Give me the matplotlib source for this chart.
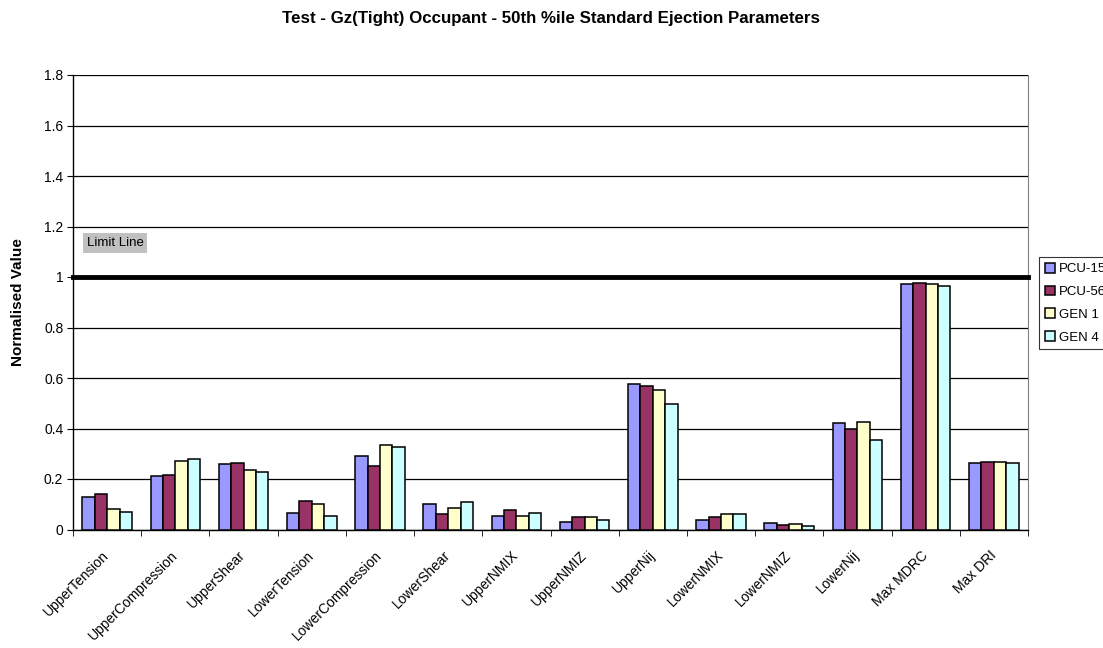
import matplotlib
matplotlib.use("Agg")
import matplotlib.pyplot as plt
import numpy as np

plt.rcParams['font.family'] = ['Liberation Sans', 'DejaVu Sans']

categories = ["UpperTension", "UpperCompression", "UpperShear", "LowerTension",
              "LowerCompression", "LowerShear", "UpperNMIX", "UpperNMIZ",
              "UpperNij", "LowerNMIX", "LowerNMIZ", "LowerNij", "Max MDRC", "Max DRI"]

pcu_15 = [0.130, 0.210, 0.258, 0.064, 0.292, 0.100, 0.054, 0.030, 0.578, 0.036, 0.027, 0.421, 0.972, 0.262]
pcu_56 = [0.141, 0.217, 0.265, 0.112, 0.251, 0.060, 0.078, 0.049, 0.569, 0.049, 0.017, 0.397, 0.978, 0.268]
gen_1  = [0.083, 0.270, 0.236, 0.100, 0.333, 0.084, 0.054, 0.049, 0.554, 0.060, 0.023, 0.424, 0.972, 0.268]
gen_4  = [0.071, 0.280, 0.229, 0.054, 0.328, 0.107, 0.066, 0.037, 0.497, 0.060, 0.015, 0.355, 0.966, 0.262]

series_names = ["PCU-15", "PCU-56", "GEN 1", "GEN 4"]
series_colors = ["#9999FF", "#993366", "#FFFFCC", "#CCFFFF"]
limit_value = 1.0
y_ticks = [0, 0.2, 0.4, 0.6, 0.8, 1, 1.2, 1.4, 1.6, 1.8]
y_tick_labels = ["0", "0.2", "0.4", "0.6", "0.8", "1", "1.2", "1.4", "1.6", "1.8"]

W, H = 1103, 648
fig = plt.figure(figsize=(W / 100, H / 100), dpi=100)
left, right, top, bottom = 73, 1028, 75, 529.5
ax = fig.add_axes([left / W, 1 - bottom / H, (right - left) / W, (bottom - top) / H])

n = len(categories)
x = np.arange(n)
bar_w = 1 / 5.5
all_series = [pcu_15, pcu_56, gen_1, gen_4]
for i, (vals, name, col) in enumerate(zip(all_series, series_names, series_colors)):
    offs = (i - 1.5) * bar_w
    ax.bar(x + offs, vals, width=bar_w, color=col, edgecolor="black",
           linewidth=1.1, label=name, zorder=3)

ax.set_xlim(-0.5, n - 0.5)
ax.set_ylim(0, 1.8)
ax.set_yticks(y_ticks)
ax.set_yticklabels(y_tick_labels, fontsize=10)
ax.yaxis.grid(True, color="black", linewidth=0.9, zorder=0)
ax.set_axisbelow(True)

ax.set_xticks(x)
ax.set_xticklabels(categories, rotation=45, ha="right", va="center",
                   rotation_mode="anchor", fontsize=10)
ax.tick_params(axis="x", which="major", length=0, pad=17)
ax.set_xticks(np.arange(n + 1) - 0.5, minor=True)
ax.tick_params(axis="x", which="minor", length=4, direction="out", color="black")
ax.tick_params(axis="y", length=4, direction="out", pad=3)

ax.spines["top"].set_visible(False)
ax.spines["right"].set_color("#808080")
ax.spines["left"].set_color("black")
ax.spines["bottom"].set_color("black")
for s in ("left", "bottom"):
    ax.spines[s].set_linewidth(1.0)

ax.axhline(limit_value, color="black", linewidth=3.5, zorder=4, clip_on=False)
ax.text(-0.30, 1.135, "Limit Line", fontsize=9.5, va="center", ha="left",
        bbox=dict(boxstyle="square,pad=0.3", facecolor="#C0C0C0", edgecolor="none"),
        zorder=5)

ax.set_ylabel("Normalised Value", fontsize=11, fontweight="bold")
ax.yaxis.set_label_coords((25 - left) / (right - left), 0.5)
fig.suptitle("Test - Gz(Tight) Occupant - 50th %ile Standard Ejection Parameters",
             fontsize=12.2, fontweight="bold", y=1 - 18 / H, va="center")

leg = ax.legend(loc="upper left", bbox_to_anchor=(1039 / W, 1 - 257 / H),
                bbox_transform=fig.transFigure, fontsize=9.5, frameon=True,
                fancybox=False, edgecolor="black", handlelength=0.75,
                handleheight=0.75, handletextpad=0.3, borderpad=0.45,
                labelspacing=0.78, borderaxespad=0)
leg.get_frame().set_linewidth(0.8)

fig.savefig("out.png", dpi=100)
